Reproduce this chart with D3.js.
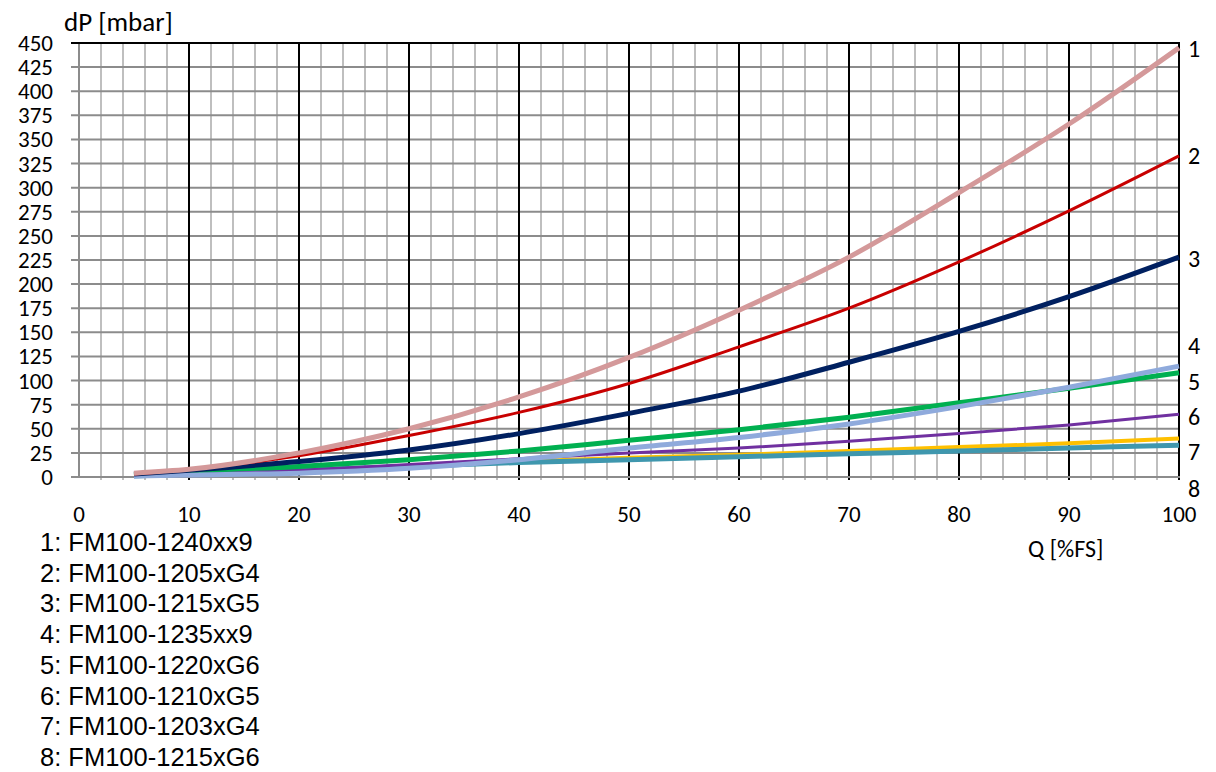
<!DOCTYPE html>
<html>
<head>
<meta charset="utf-8">
<script src="https://cdn.jsdelivr.net/npm/d3@7"></script>
<style>
  body { margin: 0; background: #fff; }
  svg { display: block; }
</style>
</head>
<body>
<div id="chart"></div>
<script>
var width = 1216;
var height = 772;
var margin = {top: 43, right: 37, bottom: 295, left: 79};
var tickFont = "Carlito, Lato, sans-serif";

// data
var qValues = [5, 10, 20, 30, 40, 50, 60, 70, 80, 90, 100];
var series1 = [4, 8, 25, 50, 83, 124, 173, 228, 295, 366, 445];
var series2 = [3, 8, 22, 43, 67, 97, 135, 175, 223, 276, 333];
var series3 = [3, 7, 16, 28, 45, 66, 89, 119, 151, 187, 228];
var series4 = [1, 2, 4, 9, 18, 30, 41, 55, 73, 93, 115];
var series5 = [2, 6, 11, 18, 27, 38, 49, 62, 77, 92, 108];
var series6 = [1, 3, 7, 13, 19, 25, 30, 37, 45, 54, 65];
var series7 = [1, 3, 7, 11, 16, 20, 23, 27, 31, 35, 40];
var series8 = [1, 3, 7, 11, 15, 18, 21, 24, 27, 30, 33];
var models = ["FM100-1240xx9", "FM100-1205xG4", "FM100-1215xG5", "FM100-1235xx9",
              "FM100-1220xG6", "FM100-1210xG5", "FM100-1203xG4", "FM100-1215xG6"];
var curveLabels = ["1", "2", "3", "4", "5", "6", "7", "8"];
var curveLabelValues = [435, 325, 218, 128, 90, 54, 18, -21];
var yTicks = d3.range(0, 451, 25);
var xTicks = d3.range(0, 101, 10);

// styles per series (index 0 = curve 1)
var colors = ["#d4999a", "#c80000", "#002060", "#8faadc", "#00b050", "#7030a0", "#ffc000", "#3f97ae"];
var widths = [5, 3, 5, 5, 5, 3, 4, 5];
var drawOrder = [6, 7, 5, 4, 3, 2, 1, 0];

var allSeries = [series1, series2, series3, series4, series5, series6, series7, series8];

var svg = d3.select("#chart").append("svg")
      .attr("width", width)
      .attr("height", height);

var xScale = d3.scaleLinear()
      .domain([0, 100])
      .range([margin.left, width - margin.right]);
var yScale = d3.scaleLinear()
      .domain([0, 450])
      .range([height - margin.bottom, margin.top]);

var x0 = xScale(0), x1 = xScale(100), yb = yScale(0), yt = yScale(450);

// minor vertical grid every 2 units
var grid = svg.append("g");
grid.selectAll(".minor")
      .data(d3.range(2, 100, 2).filter(d => d % 10 != 0))
      .enter().append("line")
      .attr("x1", d => xScale(d)).attr("x2", d => xScale(d))
      .attr("y1", yt).attr("y2", yb + 3)
      .style("stroke", "#bfbfbf")
      .style("stroke-width", 2);

// horizontal grid with small ticks on the left
grid.selectAll(".hgrid")
      .data(yTicks.filter(d => d > 0 && d < 450))
      .enter().append("line")
      .attr("x1", x0 - 8).attr("x2", x1)
      .attr("y1", d => yScale(d)).attr("y2", d => yScale(d))
      .style("stroke", "#8c8c8c")
      .style("stroke-width", 2);

// major vertical lines
grid.selectAll(".major")
      .data(d3.range(10, 101, 10))
      .enter().append("line")
      .attr("x1", d => xScale(d)).attr("x2", d => xScale(d))
      .attr("y1", yt).attr("y2", yb + 3)
      .style("stroke", "#000")
      .style("stroke-width", 2);

// axis lines
grid.append("line")
      .attr("x1", x0).attr("x2", x0).attr("y1", yt).attr("y2", yb)
      .style("stroke", "#8c8c8c").style("stroke-width", 2);
grid.append("line")
      .attr("x1", x0 - 8).attr("x2", x1 + 1).attr("y1", yb).attr("y2", yb)
      .style("stroke", "#8c8c8c").style("stroke-width", 2);
grid.append("line")
      .attr("x1", x0 - 8).attr("x2", x1 + 1).attr("y1", yt).attr("y2", yt)
      .style("stroke", "#000").style("stroke-width", 2);

// tick labels
svg.append("g").selectAll("text")
      .data(yTicks)
      .enter().append("text")
      .attr("x", 53)
      .attr("y", d => yScale(d) + 8)
      .style("text-anchor", "end")
      .style("font-family", tickFont)
      .style("font-size", "23px")
      .text(d => d);

svg.append("g").selectAll("text")
      .data(xTicks)
      .enter().append("text")
      .attr("x", d => xScale(d))
      .attr("y", yb + 45)
      .style("text-anchor", "middle")
      .style("font-family", tickFont)
      .style("font-size", "23px")
      .text(d => d);

svg.append("text")
      .attr("x", 64)
      .attr("y", 31)
      .style("font-family", tickFont)
      .style("font-size", "27px")
      .text("dP [mbar]");

svg.append("text")
      .attr("x", xScale(89.7))
      .attr("y", yb + 80)
      .style("text-anchor", "middle")
      .style("font-family", tickFont)
      .style("font-size", "24px")
      .text("Q [%FS]");

// curves
var line = d3.line()
      .x(d => xScale(d[0]))
      .y(d => yScale(d[1]))
      .curve(d3.curveMonotoneX);

drawOrder.forEach(function(i) {
      var pts = qValues.map((q, k) => [q, allSeries[i][k]]);
      svg.append("path")
            .attr("d", line(pts))
            .style("fill", "none")
            .style("stroke", colors[i])
            .style("stroke-width", widths[i])
            .style("stroke-linecap", "butt");
});

// curve numbers at the right
svg.append("g").selectAll("text")
      .data(curveLabels)
      .enter().append("text")
      .attr("x", x1 + 9)
      .attr("y", (d, i) => yScale(curveLabelValues[i]))
      .style("font-family", tickFont)
      .style("font-size", "24px")
      .text(d => d);

// legend
svg.append("g").selectAll("text")
      .data(models)
      .enter().append("text")
      .attr("x", 40)
      .attr("y", (d, i) => 551 + i * 30.7)
      .style("font-family", "'Liberation Sans', Arial, sans-serif")
      .style("font-size", "25.5px")
      .text((d, i) => (i + 1) + ": " + d);
</script>
</body>
</html>
